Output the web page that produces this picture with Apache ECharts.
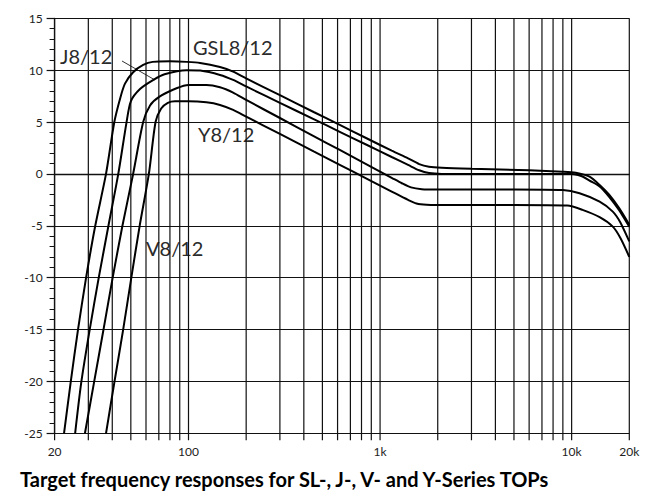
<!DOCTYPE html>
<html><head><meta charset="utf-8">
<script src="https://cdn.jsdelivr.net/npm/echarts@6/dist/echarts.min.js"></script>
<style>html,body{margin:0;padding:0;background:#fff}#c{width:651px;height:501px}</style>
</head><body><div id="c"></div>
<script>
// ---- data ----
const freqGSL = [22.4, 24.3, 26.5, 29.2, 32.6, 37.1, 41, 44, 46.6, 51.4, 58, 65, 80, 98, 115, 146, 171, 200, 300, 450, 616, 850, 1150, 1400, 1600, 1800, 2100, 3000, 6000, 9000, 10500, 12400, 14000, 15700, 17700, 20000];
const dbGSL   = [-25, -20, -15, -10, -5, 0, 5, 7.3, 8.7, 9.8, 10.5, 10.8, 10.85, 10.8, 10.7, 10.3, 9.86, 9.2, 7.59, 5.97, 4.72, 3.44, 2.24, 1.5, 0.95, 0.7, 0.6, 0.5, 0.35, 0.22, 0.12, -0.26, -1.06, -2.0, -3.3, -4.9];

const freqJ = [25.6, 27.6, 30.5, 34, 38.2, 43, 47.5, 50, 56, 65.6, 75, 97.7, 115, 146, 171, 200, 300, 450, 616, 850, 1150, 1400, 1600, 1800, 2100, 5000, 10000, 10800, 11400, 12400, 14000, 15700, 17700, 20000];
const dbJ   = [-25, -20, -15, -10, -5, 0, 5, 7.0, 8.2, 9.06, 9.6, 10.0, 9.96, 9.54, 9.06, 8.43, 6.85, 5.28, 4.06, 2.81, 1.63, 0.87, 0.35, 0.08, 0, 0, 0, -0.1, -0.25, -0.64, -1.2, -2.2, -3.5, -5.1];

const freqY = [28.8, 32.2, 36, 40.2, 45.2, 51.4, 58, 63, 70.6, 86.6, 100, 124, 146, 171, 200, 300, 450, 616, 850, 1150, 1300, 1450, 1650, 2000, 5000, 9000, 11000, 14000, 16400, 18000, 20000];
const dbY   = [-25, -20, -15, -10, -5, 0, 5, 6.6, 7.45, 8.26, 8.58, 8.58, 8.36, 7.84, 7.13, 5.39, 3.65, 2.31, 0.93, -0.37, -0.9, -1.3, -1.47, -1.5, -1.5, -1.55, -1.86, -2.67, -3.63, -4.7, -6.5];

const freqV = [37.1, 41.1, 45.6, 50.3, 55.6, 62.1, 67.3, 72, 78, 85, 100, 124, 146, 171, 200, 300, 450, 616, 850, 1150, 1400, 1550, 1750, 2000, 5000, 9500, 11400, 14000, 16400, 18000, 20000];
const dbV   = [-25, -20, -15, -10, -5, 0, 5, 6.3, 6.85, 7.0, 7.0, 6.9, 6.65, 6.17, 5.52, 3.85, 2.17, 0.88, -0.45, -1.7, -2.5, -2.85, -2.98, -3.0, -3.0, -3.05, -3.47, -4.17, -5.08, -6.2, -8.0];

const seriesNames = ['GSL8/12', 'J8/12', 'Y8/12', 'V8/12'];
const gridFreqs = [20, 30, 40, 50, 60, 70, 80, 90, 100, 200, 300, 400, 500, 600, 700, 800, 900, 1000, 2000, 3000, 4000, 5000, 6000, 7000, 8000, 9000, 10000, 20000];
const tickLabelFreqs = [20, 100, 1000, 10000, 20000];
const tickLabels = ['20', '100', '1k', '10k', '20k'];
const titleText = 'Target frequency responses for SL-, J-, V- and Y-Series TOPs';

// ---- chart ----
const FONT = 'Lato, "DejaVu Sans", sans-serif';
const zip = (f, v) => f.map((x, i) => [x, v[i]]);
const curves = [zip(freqGSL, dbGSL), zip(freqJ, dbJ), zip(freqY, dbY), zip(freqV, dbV)];

const chart = echarts.init(document.getElementById('c'), null, {renderer: 'svg'});
const lineSeries = curves.map((d, i) => ({
  name: seriesNames[i], type: 'line', data: d, showSymbol: false, symbol: 'none',
  smooth: 0.25, z: 5,
  lineStyle: {color: '#000', width: 2}
}));

chart.setOption({
  animation: false,
  backgroundColor: '#fff',
  grid: {left: 54.6, right: 21.7, top: 18.3, bottom: 67.7, containLabel: false},
  xAxis: {
    type: 'log', logBase: 10, min: 20, max: 20000,
    axisLine: {show: true, lineStyle: {color: '#111', width: 1.3}},
    axisTick: {show: false}, axisLabel: {show: false}, splitLine: {show: false}
  },
  yAxis: {
    type: 'value', min: -25, max: 15, interval: 5,
    axisLine: {show: true, lineStyle: {color: '#111', width: 1.3}},
    axisTick: {show: true, length: 8, lineStyle: {color: '#111', width: 1.2}},
    minorTick: {show: true, splitNumber: 5, length: 5, lineStyle: {color: '#111', width: 1}},
    axisLabel: {color: '#222', fontSize: 12, fontFamily: FONT, margin: 12},
    splitLine: {show: true, lineStyle: {color: '#111', width: 1.2}}
  },
  series: [
    {
      type: 'custom', z: 1, silent: true, clip: false,
      data: gridFreqs.map(f => [f, -25]),
      encode: {x: 0, y: 1},
      renderItem: (params, api) => {
        const f = api.value(0);
        const t = api.coord([f, 15]);
        const b = api.coord([f, -25]);
        return {type: 'line', shape: {x1: t[0], y1: t[1], x2: b[0], y2: b[1] + 7},
                style: {stroke: '#111', lineWidth: 1.2}};
      }
    },
    {
      type: 'custom', z: 2, silent: true, clip: false,
      data: tickLabelFreqs.map((f, i) => [f, -25, i]),
      encode: {x: 0, y: 1},
      renderItem: (params, api) => {
        const p = api.coord([api.value(0), -25]);
        return {type: 'text', style: {text: tickLabels[api.value(2)], x: p[0], y: p[1] + 12,
                align: 'center', verticalAlign: 'top', fill: '#222', font: '12px ' + FONT}};
      }
    }
  ].concat(lineSeries),
  graphic: [
    {type: 'text', left: 60, top: 46, style: {text: 'J8/12', fill: '#2b2b2b', font: '20px ' + FONT}},
    {type: 'text', left: 193, top: 37, style: {text: 'GSL8/12', fill: '#2b2b2b', font: '20px ' + FONT}},
    {type: 'text', left: 198, top: 124, style: {text: 'Y8/12', fill: '#2b2b2b', font: '20px ' + FONT}},
    {type: 'text', left: 146, top: 238, style: {text: 'V8/12', fill: '#2b2b2b', font: '20px ' + FONT}},
    {type: 'line', shape: {x1: 122, y1: 61, x2: 155, y2: 80}, style: {stroke: '#333', lineWidth: 1}},
    {type: 'text', left: 20, top: 469, style: {text: titleText, fill: '#000', font: 'bold 20px ' + FONT}}
  ]
});
</script>
</body></html>
